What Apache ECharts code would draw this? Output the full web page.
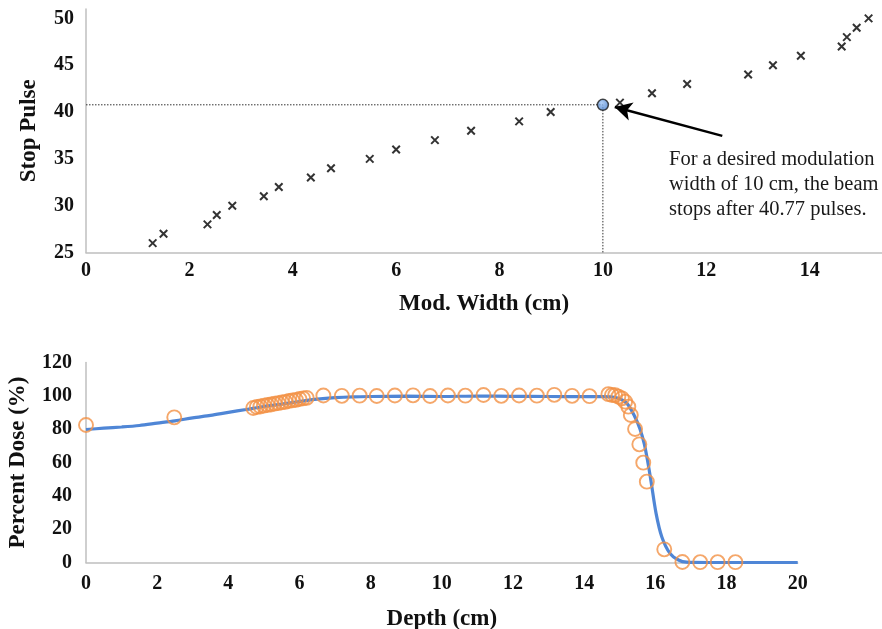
<!DOCTYPE html>
<html>
<head>
<meta charset="utf-8">
<script src="https://cdn.jsdelivr.net/npm/echarts/dist/echarts.min.js"></script>
<style>
html,body{margin:0;padding:0;background:#fff;}
#chart{width:882px;height:629px;}
</style>
</head>
<body>
<div id="chart"></div>
<script>
// ---- Top chart data: stop pulse vs modulation width ----
const modWidth = [1.29,1.50,2.35,2.53,2.83,3.44,3.73,4.35,4.74,5.49,6.00,6.75,7.45,8.38,8.99,10.33,10.95,11.63,12.81,13.29,13.83,14.62,14.72,14.91,15.14];
const stopPulse = [26,27,28,29,30,31,32,33,34,35,36,37,38,39,40,41,42,43,44,45,46,47,48,49,50];
const desiredWidth = 10;
const desiredPulse = 40.77;
const arrowFrom = [12.31, 37.45];
const arrowTo = [10.23, 40.53];
const topXTicks = [0,2,4,6,8,10,12,14];
const topYTicks = [25,30,35,40,45,50];
const noteLines = ["For a desired modulation", "width of 10 cm, the beam", "stops after 40.77 pulses."];

// ---- Bottom chart data: percent depth dose ----
const depthCurve = [0,0.5,1.0,1.5,2.0,2.5,3.0,3.5,4.0,4.5,5.0,5.5,6.0,6.5,7.0,7.5,8.0,9.0,10.0,11.0,12.0,13.0,14.0,14.5,14.8,15.0,15.2,15.4,15.57,15.69,15.79,15.88,16.02,16.18,16.41,16.65,16.88,17.5,18.5,20.0];
const doseCurve  = [79.8,80.6,81.3,82.2,83.6,85.0,86.8,88.3,90.1,91.8,93.6,95.0,96.6,98.0,98.9,99.4,99.6,99.8,99.6,99.9,99.7,99.6,99.5,99.5,99.3,98.2,95.5,88.5,80.0,71.0,60.0,48.5,29.5,15.5,5.5,1.5,0.2,0.0,0.0,0.0];
const depthMeas = [0,2.48,4.7,4.8,4.9,5.0,5.1,5.2,5.3,5.4,5.5,5.6,5.7,5.8,5.9,6.0,6.1,6.2,6.67,7.19,7.69,8.17,8.68,9.19,9.67,10.17,10.66,11.17,11.67,12.17,12.67,13.16,13.66,14.15,14.68,14.78,14.87,14.96,15.06,15.15,15.24,15.31,15.43,15.55,15.66,15.76,16.25,16.76,17.26,17.75,18.25];
const doseMeas  = [82.5,87.1,92.7,93.3,93.6,94.1,94.5,94.8,95.3,95.6,96.1,96.4,96.9,97.3,97.6,98.1,98.5,98.8,100.2,100.0,100.1,99.9,100.2,100.3,99.9,100.2,100.1,100.5,100.0,100.2,100.1,100.6,100.0,99.8,101.0,100.5,100.4,99.5,98.5,96.5,93.5,88.5,80.1,70.9,59.9,48.5,7.9,0.3,0.2,0.2,0.2];
const botXTicks = [0,2,4,6,8,10,12,14,16,18,20];
const botYTicks = [0,20,40,60,80,100,120];

const FONT = "'Liberation Serif','Times New Roman',serif";
const axisCol = '#bfbfbf';
const zip = (a,b) => a.map((v,i)=>[v,b[i]]);
const tickFmt = ticks => v => ticks.some(t => Math.abs(t - v) < 1e-6) ? String(v) : '';

const labelStyle = {fontFamily: FONT, fontSize: 20, fontWeight: 'bold', color: '#111'};
const nameStyle = {fontFamily: FONT, fontSize: 23, fontWeight: 'bold', color: '#111'};

const chart = echarts.init(document.getElementById('chart'), null, {renderer: 'canvas'});
chart.setOption({
  animation: false,
  backgroundColor: '#ffffff',
  grid: [
    {left: 86, top: 9, width: 796, height: 243.5, containLabel: false, outerBoundsMode: 'none'},
    {left: 86, top: 362.5, width: 711.7, height: 200, containLabel: false, outerBoundsMode: 'none'}
  ],
  xAxis: [
    {gridIndex: 0, type: 'value', min: 0, max: 15.4, interval: 2,
     name: 'Mod. Width (cm)', nameLocation: 'middle', nameGap: 40, nameTextStyle: nameStyle,
     axisLine: {onZero: false, lineStyle: {color: axisCol, width: 1.5}}, axisTick: {show: false},
     splitLine: {show: false}, axisLabel: Object.assign({margin: 8, formatter: tickFmt(topXTicks)}, labelStyle)},
    {gridIndex: 1, type: 'value', min: 0, max: 20, interval: 2,
     name: 'Depth (cm)', nameLocation: 'middle', nameGap: 45, nameTextStyle: nameStyle,
     axisLine: {onZero: false, lineStyle: {color: axisCol, width: 1.5}}, axisTick: {show: false},
     splitLine: {show: false}, axisLabel: Object.assign({margin: 11, formatter: tickFmt(botXTicks)}, labelStyle)}
  ],
  yAxis: [
    {gridIndex: 0, type: 'value', min: 25, max: 51, interval: 5,
     name: 'Stop Pulse', nameLocation: 'middle', nameGap: 45, nameRotate: 90, nameTextStyle: nameStyle,
     axisLine: {show: true, onZero: false, lineStyle: {color: axisCol, width: 1.5}}, axisTick: {show: false},
     splitLine: {show: false}, axisLabel: Object.assign({margin: 12, formatter: tickFmt(topYTicks)}, labelStyle)},
    {gridIndex: 1, type: 'value', min: 0, max: 120, interval: 20,
     name: 'Percent Dose (%)', nameLocation: 'middle', nameGap: 56, nameRotate: 90, nameTextStyle: nameStyle,
     axisLine: {show: true, onZero: false, lineStyle: {color: axisCol, width: 1.5}}, axisTick: {show: false},
     splitLine: {show: false}, axisLabel: Object.assign({margin: 14, formatter: tickFmt(botYTicks)}, labelStyle)}
  ],
  series: [
    {type: 'line', xAxisIndex: 0, yAxisIndex: 0, symbol: 'none', silent: true,
     data: [[0, desiredPulse], [desiredWidth, desiredPulse], [desiredWidth, 25]],
     lineStyle: {color: '#333', width: 1, type: [1.5, 1.5]}, z: 2,
     markLine: {silent: true, symbol: ['none', 'arrow'], symbolSize: [14, 17], precision: 4,
       label: {show: false}, lineStyle: {color: '#000', width: 2.5, type: 'solid'},
       itemStyle: {color: '#000'},
       data: [[{coord: arrowFrom}, {coord: arrowTo}]]}},
    {type: 'scatter', xAxisIndex: 0, yAxisIndex: 0, data: zip(modWidth, stopPulse),
     symbol: 'path://M0,0L10,10M10,0L0,10', symbolSize: 7.5,
     itemStyle: {color: 'rgba(0,0,0,0)', borderColor: '#000', borderWidth: 2}, z: 3},
    {type: 'scatter', xAxisIndex: 0, yAxisIndex: 0, data: [[desiredWidth, desiredPulse]],
     symbol: 'circle', symbolSize: 11,
     itemStyle: {color: new echarts.graphic.RadialGradient(0.4, 0.35, 0.7, [{offset: 0, color: '#9cc3f5'}, {offset: 1, color: '#3f78c9'}]),
       borderColor: '#1a1a1a', borderWidth: 1.5}, z: 4},
    {type: 'line', xAxisIndex: 1, yAxisIndex: 1, data: zip(depthCurve, doseCurve), symbol: 'none',
     smooth: 0.3, lineStyle: {color: '#4f86d6', width: 3.2}, z: 2},
    {type: 'scatter', xAxisIndex: 1, yAxisIndex: 1, data: zip(depthMeas, doseMeas), symbol: 'circle', symbolSize: 14,
     itemStyle: {color: 'rgba(255,255,255,0)', borderColor: '#f39145', borderWidth: 1.9}, z: 3}
  ],
  graphic: [
    {type: 'text', left: 669, top: 147, silent: true,
     style: {text: noteLines.join('\n'), font: "20.5px " + FONT, fill: '#1a1a1a', lineHeight: 25}}
  ]
});
</script>
</body>
</html>
